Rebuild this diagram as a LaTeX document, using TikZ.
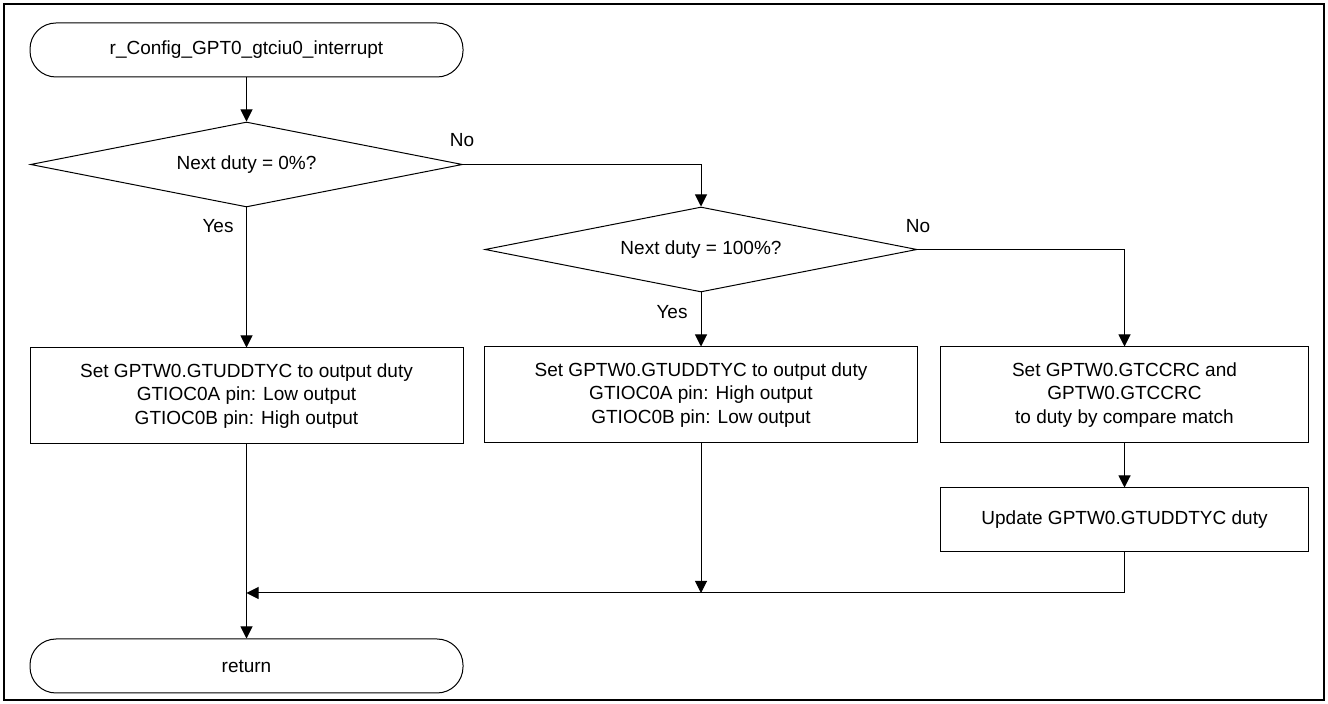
\documentclass[tikz,border=0pt]{standalone}
\usepackage{fontspec}
\setmainfont{Liberation Sans}
\usepackage{tikz}
\usetikzlibrary{arrows.meta, positioning, shapes.geometric}
\tikzset{
  base/.style  = {draw=black, line width=0.5pt, align=center, inner sep=2pt,
                  font=\fontsize{9.5}{11.7}\selectfont},
  term/.style  = {base, rounded corners=13pt, minimum width=216.5pt, minimum height=27pt},
  dec/.style   = {base, diamond, shape aspect=5, inner sep=0pt,
                  minimum width=216pt, minimum height=42.5pt},
  proc/.style  = {base, minimum width=216.5pt, minimum height=48pt},
  fl/.style    = {-{Triangle[length=6pt, width=6pt]}, line width=0.5pt, draw=black},
  lbl/.style   = {font=\fontsize{9.5}{11.7}\selectfont, inner sep=1pt},
  frm/.style   = {draw=black, line width=1.3pt},
}
\begin{document}
\begin{tikzpicture}[x=0.5pt, y=-0.5pt]
\useasboundingbox (0,0) rectangle (1328,704);
\draw[frm] (4,4) rectangle (1324,700);
\node[term] (start) at (246.5,50) {r\_Config\_GPT0\_gtciu0\_interrupt};
\node[dec, below=22pt of start] (zero) {Next duty = 0\%?};
\node[dec] (full) at (701,249.5) {Next duty = 100\%?};
\node[proc, below=70pt of zero] (setlow)
  {Set GPTW0.GTUDDTYC to output duty\\GTIOC0A pin: Low output\\GTIOC0B pin: High output};
\node[proc, below=27pt of full] (sethigh)
  {Set GPTW0.GTUDDTYC to output duty\\GTIOC0A pin: High output\\GTIOC0B pin: Low output};
\node[proc, minimum width=184pt, right=11pt of sethigh] (setcmp)
  {Set GPTW0.GTCCRC and\\GPTW0.GTCCRC\\to duty by compare match};
\node[proc, minimum width=184pt, minimum height=32pt, below=22pt of setcmp] (upd)
  {Update GPTW0.GTUDDTYC duty};
\node[term, below=97pt of setlow] (ret) {return};
\coordinate (join) at (setlow.south |- 0,593);
% branches
\draw[fl] (start) -- (zero);
\draw[fl] (zero) -- (setlow);
\draw[fl] (zero.east) -| (full.north);
\draw[fl] (full) -- (sethigh);
\draw[fl] (full.east) -| (setcmp.north);
\draw[fl] (setcmp) -- (upd);
% merge
\draw[fl] (upd.south) |- (join);
\draw[fl] (sethigh.south) -- (sethigh.south |- join);
\draw[fl] (setlow) -- (ret);
\node[lbl] (no1) at (462,140) {No};
\node[lbl] (yes1) at (218,226) {Yes};
\node[lbl] (no2) at (918,226) {No};
\node[lbl] (yes2) at (672,312) {Yes};
\end{tikzpicture}
\end{document}
